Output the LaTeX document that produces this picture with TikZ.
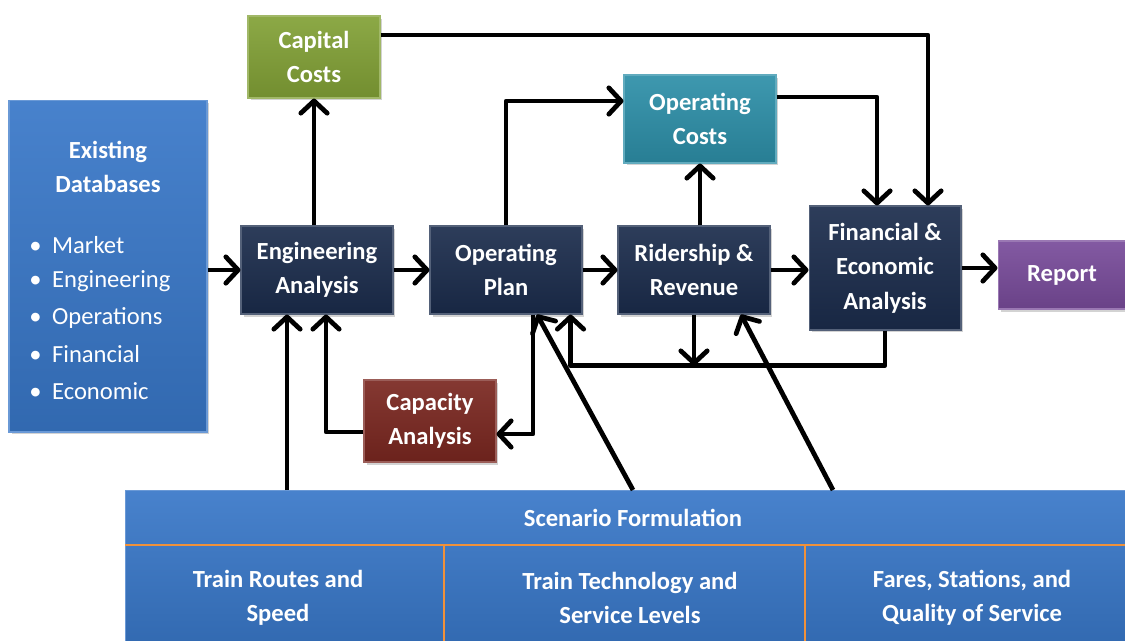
\documentclass[tikz,border=0pt]{standalone}
\usepackage{fontspec}
\setmainfont{Carlito}
\usetikzlibrary{positioning, arrows.meta, shadows}
\definecolor{navy}{HTML}{1B2C4C}
\definecolor{dbblue}{HTML}{3877C8}
\definecolor{capgreen}{HTML}{82A136}
\definecolor{opteal}{HTML}{2D8FA8}
\definecolor{capred}{HTML}{7A2720}
\definecolor{rptpurple}{HTML}{784B9A}
\definecolor{divline}{HTML}{F0913A}
\tikzset{
  card/.style    ={draw=#1!75!white, line width=0.6pt, align=center,
                   top color=#1!92!white, bottom color=#1!88!black,
                   text=white, inner sep=3pt,
                   font=\fontsize{14}{19.6}\selectfont\bfseries,
                   drop shadow={opacity=0.35, shadow xshift=0.05cm,
                                shadow yshift=-0.05cm}},
  Lproc/.style   ={card=navy, minimum width=3.04cm, minimum height=1.76cm},
  Lcost/.style   ={card=#1, minimum width=2.64cm, minimum height=1.64cm},
  Lbig/.style    ={card=dbblue},
  dbitem/.style  ={anchor=west, text=white, inner sep=0pt,
                   font=\fontsize{14}{19}\selectfont},
  lbl/.style     ={text=white, align=center, inner sep=0pt,
                   font=\fontsize{14}{19.6}\selectfont\bfseries},
  flow/.style    ={-{Straight Barb[length=7pt, width=15pt, round]},
                   line width=2.7pt, line join=round},
  divider/.style ={divline, line width=1pt},
}

\begin{document}
\begin{tikzpicture}[x=0.02cm, y=-0.02cm]
\useasboundingbox (0,0) rectangle (1125,640);

% Existing databases on the left
\node[Lbig, minimum width=3.96cm, minimum height=6.64cm] (DB) at (108,266) {};
\node[lbl] (DBt) at (108,167) {Existing\\Databases};
\foreach \t [count=\i] in {Market, Engineering, Operations, Financial, Economic}
  \node[dbitem] (DB\i) at (29, 245+36.5*\i-36.5) {\textbullet\hspace{6pt}\t};

% Main chain
\node[Lproc] (EA) at (317,270) {Engineering\\Analysis};
\node[Lproc] (OP) at (506,270) {Operating\\Plan};
\node[Lproc] (RR) at (694,270) {Ridership \&\\Revenue};
\node[Lproc, minimum height=2.48cm] (FEA) at (885,268) {Financial \&\\Economic\\Analysis};
\node[card=rptpurple, minimum width=2.56cm, minimum height=1.36cm] (RPT) at (1062,275) {Report};

% Cost and capacity cards
\node[Lcost=capgreen] (CC) at (314,57) {Capital\\Costs};
\node[Lcost=opteal, minimum width=3.04cm, minimum height=1.76cm] (OC) at (700,119) {Operating\\Costs};
\node[Lcost=capred] (CA) at (430,421) {Capacity\\Analysis};

% Scenario formulation, runs off the page
\node[Lbig, anchor=north west, minimum width=20.2cm, minimum height=3.2cm] (SF) at (125,490) {};
\node[lbl] (SFt) at (633,518) {Scenario Formulation};
\draw[divider] ([yshift=-1.1cm]SF.north west) -- ([yshift=-1.1cm]SF.north east);
\draw[divider] (444,545) -- (444,650);
\draw[divider] (805,545) -- (805,650);
\node[lbl] (SF1) at (278,598) {Train Routes and\\Speed};
\node[lbl] (SF2) at (630,598) {Train Technology and\\Service Levels};
\node[lbl] (SF3) at (972,598) {Fares, Stations, and\\Quality of Service};

% Chain arrows
\draw[flow] (DB.east |- EA.west) -- (EA.west);
\draw[flow] (EA) -- (OP);
\draw[flow] (OP) -- (RR);
\draw[flow] (RR.east) -- (RR.east -| FEA.west);
\draw[flow] (FEA.east) -- (FEA.east -| RPT.west);

% Costs
\draw[flow] (EA.north -| CC.south) -- (CC.south);
\draw[flow] ([yshift=0.44cm]CC.east) -| ([xshift=0.86cm]FEA.north);
\draw[flow] (OP.north) |- ([yshift=0.36cm]OC.west);
\draw[flow] ([yshift=0.44cm]OC.east) -| ([xshift=-0.16cm]FEA.north);
\draw[flow] (RR.north -| OC.south) -- (OC.south);

% Feedback loop under the chain
\coordinate (fbk) at ([yshift=-0.7cm]FEA.south);
\draw[flow] (FEA.south) -- (fbk) -| ([xshift=-0.24cm]OP.south east);
\draw[flow] (RR.south) -- (RR.south |- fbk);

% Capacity loop
\draw[flow] ([xshift=0.54cm]OP.south) |- ([yshift=-0.26cm]CA.east);
\draw[flow] ([yshift=-0.22cm]CA.west) -| ([xshift=0.18cm]EA.south);

% Scenario inputs
\coordinate (sf1) at (287,490);
\coordinate (sf2) at (633,490);
\coordinate (sf3) at (833,490);
\draw[flow] (sf1) -- (sf1 |- EA.south);
\draw[flow] (sf2) -- ([xshift=0.62cm]OP.south);
\draw[flow] (sf3) -- ([xshift=0.94cm]RR.south);

\end{tikzpicture}
\end{document}
